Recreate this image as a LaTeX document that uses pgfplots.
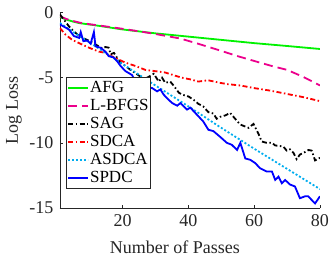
\documentclass[border=0pt]{standalone}
\usepackage{fontspec}
\setmainfont{Liberation Serif}
\usepackage{pgfplots}
\pgfplotsset{compat=1.18}
\definecolor{axgray}{rgb}{0.15,0.15,0.15}
\begin{document}
\begin{tikzpicture}
\begin{axis}[
  at={(0pt,0pt)}, anchor=south west,
  scale only axis, width=260pt, height=195.5pt,
  xmin=1, xmax=80, ymin=-15, ymax=0,
  axis x line*=bottom, axis y line*=left,
  axis line style={-, draw=axgray, line width=0.6pt},
  tick style={draw=axgray, line width=0.6pt},
  tick align=inside, major tick length=3pt,
  xtick={20,40,60,80}, xticklabels={20,40,60,80},
  ytick={-15,-10,-5,0}, yticklabels={-15,-10,-5,0},
  ticklabel style={font=\fontsize{18}{20}\selectfont, text=axgray},
  xticklabel style={yshift=-3pt},
  yticklabel style={xshift=-3pt},
  every axis x label/.style={at={(axis description cs:0.442,-0.2302)}, anchor=base, font=\fontsize{18}{20}\selectfont, text=axgray},
  every axis y label/.style={at={(axis description cs:-0.177,0.5)}, rotate=90, anchor=center, font=\fontsize{18}{20}\selectfont, text=axgray},
  xlabel={Number of Passes}, ylabel={Log Loss},
  legend cell align=left,
  legend style={at={(axis description cs:0.023,0.670)}, anchor=north west,
    font=\fontsize{17}{19}\selectfont, draw=axgray, line width=0.6pt, fill=white,
    inner xsep=1pt, inner ysep=1.5pt, row sep=0pt,
    nodes={inner sep=1pt, text height=12.5pt, text depth=3.5pt}},
  legend image code/.code={\draw[#1] plot coordinates {(0pt,0pt) (20pt,0pt)};},
  every axis plot/.append style={line width=1.8pt},
  clip=true,
]
% AFG
\addplot[color={rgb,1:red,0;green,0.95;blue,0}, solid] coordinates {
(1,-0.35) (3,-0.55) (5,-0.7) (7,-0.82) (10,-0.92) (13,-1.03) (20,-1.3) (30,-1.6) (40,-1.85) (50,-2.1) (60,-2.35) (70,-2.57) (80,-2.8)};
\addlegendentry{AFG}
% L-BFGS
\addplot[color=magenta, dash pattern=on 9pt off 5pt] coordinates {
(1,-0.3) (3,-0.5) (5,-0.65) (7,-0.78) (10,-0.9) (13,-1.0) (20,-1.25) (26.4,-1.5) (30,-1.65) (37.6,-2.0) (43,-2.4) (48.8,-2.85) (55,-3.35) (61.8,-3.85) (66,-4.15) (70,-4.4) (75,-4.95) (80,-5.6)};
\addlegendentry{L-BFGS}
% SAG
\addplot[color=black, dash pattern=on 5pt off 2.5pt on 1.5pt off 2.5pt] coordinates {
(1,-0.15) (2.2,-0.55) (3.7,-1.05) (5,-1.4) (6.8,-1.8) (8.8,-2.05) (10.8,-2.3) (12.8,-2.6) (13.8,-2.75) (14.8,-2.65) (15.8,-2.7) (16.4,-3.2) (17.4,-3.1) (18.4,-3.5) (19.4,-3.85) (20.9,-4.1) (22.4,-4.4) (24.5,-4.75) (26.4,-5.1) (27.5,-5.0) (29.5,-4.7) (31.0,-5.3) (32.0,-5.0) (33.0,-5.4) (34.5,-5.3) (35.5,-5.6) (37.1,-6.15) (38.1,-6.3) (40.1,-6.45) (41.6,-6.7) (43.0,-7.0) (44.5,-7.2) (46.1,-7.65) (47.6,-7.75) (48.6,-8.15) (49.7,-8.0) (51.2,-7.9) (52.7,-7.7) (54.2,-8.15) (55.8,-8.6) (57.3,-8.75) (58.3,-8.85) (59.8,-8.55) (61.3,-9.3) (62.3,-9.9) (63.8,-10.0) (65.4,-10.0) (66.4,-10.2) (67.9,-10.25) (68.9,-10.3) (69.9,-10.6) (70.9,-10.5) (71.9,-10.75) (72.9,-11.25) (73.9,-10.9) (75.5,-10.7) (76.5,-10.55) (77.5,-10.6) (78.5,-11.35) (80,-11.15)};
\addlegendentry{SAG}
% SDCA
\addplot[color=red, dash pattern=on 5pt off 2.5pt on 1.5pt off 2.5pt] coordinates {
(1,-1.2) (2.7,-1.7) (4.7,-2.1) (6.8,-2.35) (9.8,-2.7) (12.8,-3.0) (14.8,-3.1) (17.9,-3.5) (20.9,-3.85) (23.9,-4.1) (26.9,-4.4) (29.9,-4.5) (32.9,-4.6) (36,-4.85) (38,-5.0) (41,-5.15) (43,-5.3) (46,-5.2) (49.7,-5.4) (52,-5.5) (55.8,-5.6) (60,-5.8) (65,-6.0) (70,-6.25) (75,-6.5) (80,-6.8)};
\addlegendentry{SDCA}
% ASDCA
\addplot[color=cyan, dash pattern=on 2pt off 2pt] coordinates {
(1,-0.8) (5,-1.5) (10,-2.3) (20,-3.95) (30,-5.6) (40,-7.2) (50,-8.85) (60,-10.45) (70,-12.0) (80,-13.55)};
\addlegendentry{ASDCA}
% SPDC
\addplot[color=blue, solid] coordinates {
(1,-0.92) (3.7,-1.3) (5.2,-1.8) (6.8,-1.95) (7.3,-1.5) (8.1,-2.2) (9.3,-2.15) (10.3,-2.4) (11.3,-1.5) (11.8,-2.6) (13.3,-2.7) (14.8,-3.0) (15.8,-3.35) (17.3,-3.45) (18.4,-3.75) (19.4,-4.1) (20.9,-4.5) (22.9,-4.8) (23.9,-5.3) (25.5,-5.5) (27,-5.7) (29.0,-5.8) (30.5,-6.05) (31.5,-5.9) (32.5,-6.3) (33.6,-6.6) (35.1,-6.95) (36.6,-7.15) (37.6,-6.95) (39.6,-7.45) (40.6,-7.3) (43.0,-7.95) (44.5,-8.35) (46.1,-9.0) (47.6,-9.1) (49.7,-9.55) (51.7,-10.0) (53.2,-10.15) (54.8,-10.55) (55.8,-10.0) (57.3,-11.2) (58.8,-11.3) (60.3,-11.55) (61.8,-11.95) (63.8,-12.2) (65.4,-12.2) (66.4,-12.85) (67.4,-12.6) (68.4,-13.1) (69.4,-12.85) (70.9,-13.2) (72.4,-13.35) (73.9,-14.25) (75.5,-14.1) (76.4,-14.1) (78.5,-14.65) (80,-14.1)};
\addlegendentry{SPDC}
\end{axis}
\pgfresetboundingbox
\path[use as bounding box] (-60pt,-49pt) rectangle (272pt,208pt);
\end{tikzpicture}
\end{document}
